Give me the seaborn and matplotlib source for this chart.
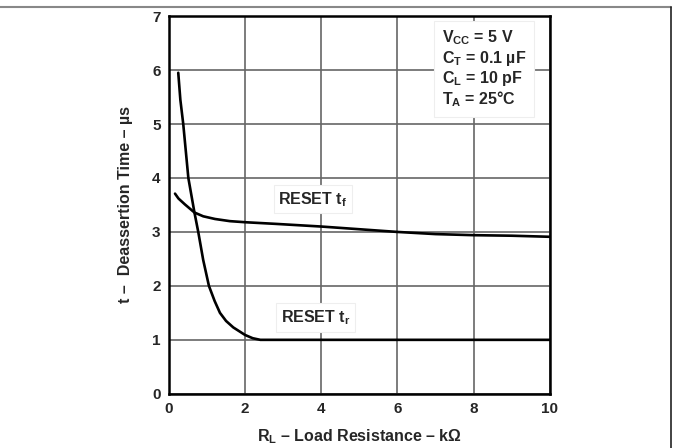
import matplotlib
matplotlib.use("Agg")
import matplotlib.pyplot as plt
from matplotlib.lines import Line2D
import pandas as pd
import seaborn as sns

# RESET t_r (rise) curve
tr_rl = [0.245, 0.3, 0.376, 0.51, 0.67, 0.77, 0.9, 1.05, 1.2, 1.34, 1.5, 1.69, 2.0, 2.2, 2.4, 10.0]
tr_t = [5.95, 5.45, 5.0, 4.0, 3.36, 3.0, 2.48, 2.0, 1.72, 1.5, 1.35, 1.23, 1.09, 1.03, 1.0, 1.0]

# RESET t_f (fall) curve
tf_rl = [0.16, 0.25, 0.42, 0.67, 0.9, 1.21, 1.6, 2.0, 2.79, 4.0, 5.0, 6.0, 7.0, 8.0, 9.0, 10.0]
tf_t = [3.71, 3.62, 3.51, 3.36, 3.29, 3.24, 3.2, 3.18, 3.15, 3.1, 3.05, 3.0, 2.96, 2.94, 2.93, 2.91]

x_ticks = [0, 2, 4, 6, 8, 10]
y_ticks = [0, 1, 2, 3, 4, 5, 6, 7]

conditions = ["V$_{CC}$ = 5 V", "C$_T$ = 0.1 µF", "C$_L$ = 10 pF", "T$_A$ = 25°C"]

sns.set_style("white")
plt.rcParams["font.family"] = ["Liberation Sans", "DejaVu Sans"]
plt.rcParams["font.weight"] = "bold"
plt.rcParams["mathtext.fontset"] = "custom"
plt.rcParams["mathtext.rm"] = "Liberation Sans:bold"
plt.rcParams["mathtext.bf"] = "Liberation Sans:bold"
plt.rcParams["mathtext.it"] = "Liberation Sans:bold"
plt.rcParams["mathtext.default"] = "bf"

df_r = pd.DataFrame({"rl": tr_rl, "t": tr_t})
df_f = pd.DataFrame({"rl": tf_rl, "t": tf_t})

fig = plt.figure(figsize=(6.73, 4.48), dpi=100)
ax = fig.add_axes([0.251, 0.121, 0.566, 0.843])

sns.lineplot(data=df_r, x="rl", y="t", ax=ax, color="black", lw=1.9, sort=False, zorder=3)
sns.lineplot(data=df_f, x="rl", y="t", ax=ax, color="black", lw=1.9, sort=False, zorder=3)

ax.set_xlim(0, 10)
ax.set_ylim(0, 7)
ax.set_xticks(x_ticks)
ax.set_yticks(y_ticks)
ax.grid(True, color="#666666", lw=1.2)
for s in ax.spines.values():
    s.set_color("black")
    s.set_linewidth(1.8)
ax.tick_params(axis="both", length=0, labelsize=11, pad=6)
for lab in ax.get_xticklabels() + ax.get_yticklabels():
    lab.set_fontweight("bold")

ax.set_xlabel("R$_L$ – Load Resistance – kΩ", fontsize=11.5, fontweight="bold", labelpad=8)
ax.set_ylabel("t –  Deassertion Time – µs", fontsize=11.5, fontweight="bold", labelpad=14)

box = dict(boxstyle="square,pad=0.3", fc="white", ec="#eeeeee", lw=0.8)
ax.text(3.78, 3.52, "RESET t$_f$", ha="center", va="baseline", fontsize=11.5, bbox=box, zorder=4)
ax.text(3.86, 1.33, "RESET t$_r$", ha="center", va="baseline", fontsize=11.5, bbox=box, zorder=4)

ax.text(7.17, 6.02, "\n".join(conditions), ha="left", va="center", fontsize=11.5,
        linespacing=1.1, zorder=4,
        bbox=dict(boxstyle="square,pad=0.5", fc="white", ec="#eeeeee", lw=0.8))

# page frame fragments seen around the figure
fig.add_artist(Line2D([0, 0.997], [0.985, 0.985], color="#888888", lw=1.5, transform=fig.transFigure))
fig.add_artist(Line2D([0.997, 0.997], [0, 0.985], color="#222222", lw=1.2, transform=fig.transFigure))

fig.savefig("out.png", dpi=100)
